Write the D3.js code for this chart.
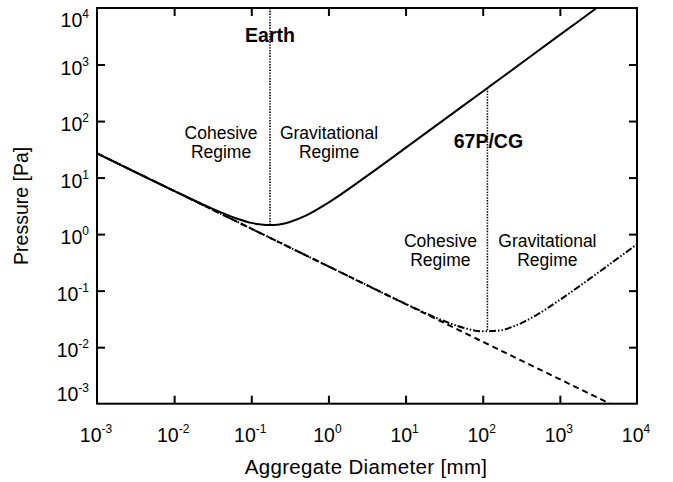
<!DOCTYPE html>
<html>
<head>
<meta charset="utf-8">
<script src="https://cdn.jsdelivr.net/npm/d3@7"></script>
<style>
  body { margin: 0; background: #fff; }
  svg { display: block; font-family: "Liberation Sans", Arial, Helvetica, sans-serif; }
</style>
</head>
<body>
<div id="okvir"></div>
<script>
// podaci ocitani sa slike (promjer u mm, tlak u Pa)
const decades = [1e-3, 1e-2, 1e-1, 1e0, 1e1, 1e2, 1e3, 1e4]
const exponents = ["-3", "-2", "-1", "0", "1", "2", "3", "4"]

const earthD = [0.001, 0.01, 0.0316, 0.0631, 0.1, 0.126, 0.158, 0.2, 0.251, 0.316, 0.501, 1, 3.16, 10, 100, 1000, 3000]
const earthP = [26.9, 5.83, 2.80, 1.91, 1.58, 1.49, 1.45, 1.45, 1.51, 1.64, 2.10, 3.61, 10.7, 33.5, 334, 3340, 10020]

const cometD = [0.001, 0.1, 1, 10, 31.6, 63.1, 100, 158.5, 251, 501, 1000, 1995, 3981, 10000]
const cometP = [26.9, 1.25, 0.269, 0.0585, 0.0290, 0.0211, 0.0191, 0.0196, 0.0233, 0.0373, 0.0687, 0.133, 0.264, 0.661]

const cohesiveD = [0.001, 1, 100, 4470]
const cohesiveP = [26.9, 0.269, 0.0125, 0.001]

// granice rezima: [promjer, tlak od, tlak do]
const earthBoundary = [0.175, 1e4, 1.45]
const cometBoundary = [115, 384, 0.0192]

const labels = [
  { text: "Earth", bold: true },
  { text: "67P/CG", bold: true },
]

async function crtaj() {
  let dim = {
    sirina: 673,
    visina: 482,
    margine: { top: 8, right: 36, bottom: 78.3, left: 97 },
  }
  dim.grSirina = dim.sirina - dim.margine.left - dim.margine.right
  dim.grVisina = dim.visina - dim.margine.top - dim.margine.bottom

  const svg = d3.select("#okvir").append("svg")
      .attr("width", dim.sirina)
      .attr("height", dim.visina)

  const g = svg.append("g")
      .attr("transform", `translate(${dim.margine.left},${dim.margine.top})`)

  g.append("defs").append("clipPath")
      .attr("id", "clip")
    .append("rect")
      .attr("width", dim.grSirina)
      .attr("height", dim.grVisina)

  const x = d3.scaleLog().domain([1e-3, 1e4]).range([0, dim.grSirina])
  const y = d3.scaleLog().domain([1e-3, 1e4]).range([dim.grVisina, 0])

  const clip = g.append("g").attr("clip-path", "url(#clip)")

  const linija = d3.line()
    .x(d => x(d[0]))
    .y(d => y(d[1]))
    .curve(d3.curveMonotoneX)

  // dashed: samo kohezija
  clip.append("path")
      .attr("d", linija(d3.zip(cohesiveD, cohesiveP)))
      .attr("fill", "none")
      .attr("stroke", "#000")
      .attr("stroke-width", 2)
      .attr("stroke-dasharray", "6,4")

  // 67P
  clip.append("path")
      .attr("d", linija(d3.zip(cometD, cometP)))
      .attr("fill", "none")
      .attr("stroke", "#000")
      .attr("stroke-width", 2)
      .attr("stroke-dasharray", "7,2,1.5,2,1.5,2")

  // Zemlja
  clip.append("path")
      .attr("d", linija(d3.zip(earthD, earthP)))
      .attr("fill", "none")
      .attr("stroke", "#000")
      .attr("stroke-width", 2)

  // granice
  for (const b of [earthBoundary, cometBoundary]) {
    clip.append("line")
        .attr("x1", x(b[0])).attr("x2", x(b[0]))
        .attr("y1", y(b[1])).attr("y2", y(b[2]))
        .attr("stroke", "#000")
        .attr("stroke-width", 1.6)
        .attr("stroke-dasharray", "1.4,1.4")
  }

  // osi
  const osi = [
    { gen: d3.axisBottom(x), t: `translate(0,${dim.grVisina})` },
    { gen: d3.axisTop(x), t: "translate(0,0)" },
    { gen: d3.axisLeft(y), t: "translate(0,0)" },
    { gen: d3.axisRight(y), t: `translate(${dim.grSirina},0)` },
  ]
  for (const o of osi) {
    const a = g.append("g")
        .attr("transform", o.t)
        .call(o.gen.tickValues(decades.slice(1, -1)).tickSize(-8).tickFormat(""))
    a.select(".domain").remove()
    a.selectAll(".tick line").attr("stroke", "#000").attr("stroke-width", 2)
  }

  g.append("rect")
      .attr("width", dim.grSirina)
      .attr("height", dim.grVisina)
      .attr("fill", "none")
      .attr("stroke", "#000")
      .attr("stroke-width", 2)

  // oznake
  const xLab = g.append("g")
    .selectAll("text")
    .data(decades)
    .join("text")
      .attr("x", d => x(d) - 1)
      .attr("y", dim.grVisina + 38.5)
      .attr("text-anchor", "middle")
      .attr("font-size", 19.5)
  xLab.append("tspan").text("10")
  xLab.append("tspan").attr("font-size", 12).attr("dy", -9).text((d, i) => exponents[i])

  // krajnje oznake na y osi su pomaknute prema unutra
  const yPomak = (d, i) => i === decades.length - 1 ? 19 : (i === 0 ? -3 : 10)
  const yLab = g.append("g")
    .selectAll("text")
    .data(decades)
    .join("text")
      .attr("x", -8)
      .attr("y", (d, i) => y(d) + yPomak(d, i))
      .attr("text-anchor", "end")
      .attr("font-size", 19.5)
  yLab.append("tspan").text("10")
  yLab.append("tspan").attr("font-size", 12).attr("dy", -9).text((d, i) => exponents[i])

  svg.append("text")
      .attr("x", dim.margine.left + dim.grSirina / 2 - 1)
      .attr("y", 474)
      .attr("text-anchor", "middle")
      .attr("font-size", 20.5)
      .attr("letter-spacing", 0.35)
      .text("Aggregate Diameter [mm]")

  svg.append("text")
      .attr("transform", `translate(28,${dim.margine.top + dim.grVisina / 2}) rotate(-90)`)
      .attr("text-anchor", "middle")
      .attr("font-size", 19.5)
      .text("Pressure [Pa]")

  // natpisi rezima
  const natpis = (cx, yy, lines, bold) => {
    const t = g.append("text")
        .attr("text-anchor", "middle")
        .attr("font-size", bold ? 19.5 : 17.5)
        .attr("font-weight", bold ? "bold" : "normal")
    lines.forEach((l, i) => {
      t.append("tspan").attr("x", cx).attr("y", yy + i * 19).text(l)
    })
  }
  const ex = x(earthBoundary[0])
  const cx = x(cometBoundary[0])
  natpis(ex, 42 - 8, [labels[0].text], true)
  natpis(ex - 49, 139 - 8, ["Cohesive", "Regime"], false)
  natpis(ex + 59, 139 - 8, ["Gravitational", "Regime"], false)
  natpis(cx + 1, 148 - 8, [labels[1].text], true)
  natpis(cx - 47, 247 - 8, ["Cohesive", "Regime"], false)
  natpis(cx + 60, 247 - 8, ["Gravitational", "Regime"], false)
}
crtaj()
</script>
</body>
</html>
